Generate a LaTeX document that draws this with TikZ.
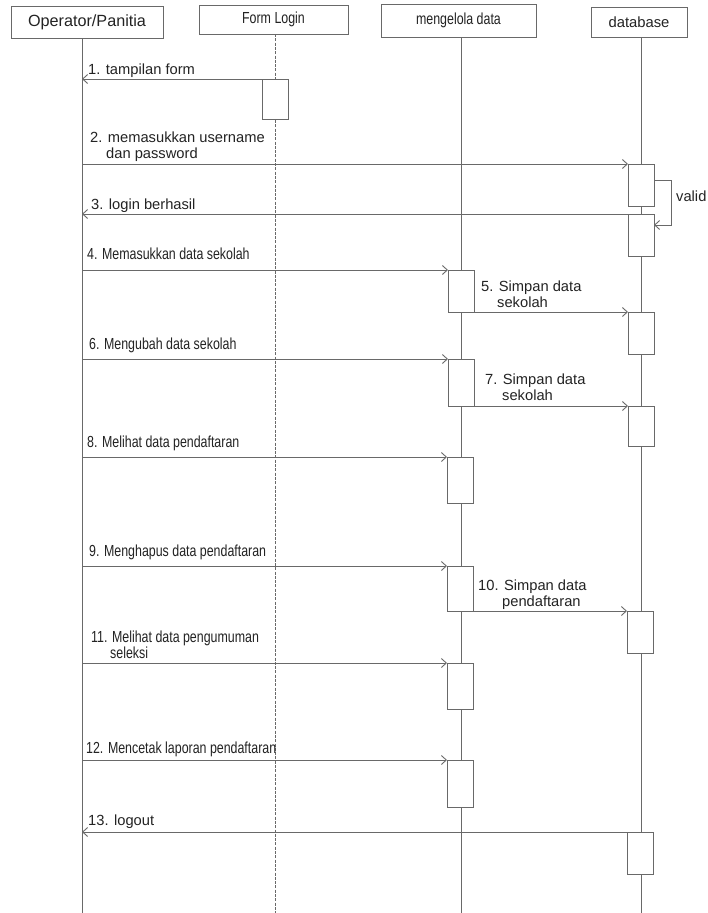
\documentclass[tikz,border=0pt]{standalone}
\usepackage{fontspec}
\setmainfont{Liberation Sans}
\newfontfamily\narrowfont[FakeStretch=0.775]{Liberation Sans}
\usetikzlibrary{arrows.meta}
\definecolor{linegray}{RGB}{105,105,105}
\definecolor{inkgray}{RGB}{35,35,35}

\begin{document}
\begin{tikzpicture}[x=1pt,y=-1pt,
  head/.style={draw=linegray, line width=0.9pt, fill=white, inner sep=0pt, text=inkgray},
  lifeline/.style={draw=linegray, line width=0.9pt},
  formline/.style={lifeline, dash pattern=on 3pt off 1.3pt},
  act/.style={draw=linegray, fill=white, line width=0.9pt, inner sep=0pt, outer sep=0pt,
              minimum width=26pt, anchor=north west},
  msg/.style={draw=linegray, line width=0.9pt, -{Straight Barb[length=5pt,width=9pt]}},
  lbl/.style={anchor=base west, inner sep=0pt, text=inkgray, font=\fontsize{14.7}{16}\selectfont},
  nlbl/.style={anchor=base west, inner sep=0pt, text=inkgray, font=\fontsize{16}{17}\narrowfont},
]
\fill[white] (0,0) rectangle (708,913);
\useasboundingbox (0,0) rectangle (708,913);

% participants
\node[head, minimum width=152pt, minimum height=32pt, font=\fontsize{16.2}{18}\selectfont]
  (op) at (87,22) {Operator/Panitia};
\node[head, minimum width=149pt, minimum height=29pt, font=\fontsize{16}{18}\narrowfont]
  (fl) at (273.5,19.5) {Form Login};
\node[head, minimum width=155pt, minimum height=33pt, font=\fontsize{16}{18}\narrowfont]
  (md) at (458.5,20.5) {mengelola data};
\node[head, minimum width=96pt, minimum height=30pt, font=\fontsize{14.8}{17}\selectfont]
  (db) at (639,22) {database};

% lifelines
\coordinate (opTop) at (82,38);   \coordinate (opBot) at (82,913);
\coordinate (flTop) at (275,34);  \coordinate (flBot) at (275,913);
\coordinate (mdTop) at (461,37);  \coordinate (mdBot) at (461,913);
\coordinate (dbTop) at (641,37);  \coordinate (dbBot) at (641,913);
\draw[lifeline] (opTop) -- (opBot);
\draw[formline] (flTop) -- (flBot);
\draw[lifeline] (mdTop) -- (mdBot);
\draw[lifeline] (dbTop) -- (dbBot);

% activation bars
\node[act, minimum height=40pt] (a1)  at (262,79)  {};
\node[act, minimum height=42pt] (d1)  at (628,164) {};
\node[act, minimum height=42pt] (d2)  at (628,214) {};
\node[act, minimum height=42pt] (m4)  at (448,270) {};
\node[act, minimum height=42pt] (d5)  at (628,312) {};
\node[act, minimum height=47pt] (m6)  at (448,359) {};
\node[act, minimum height=40pt] (d7)  at (628,406) {};
\node[act, minimum height=46pt] (m8)  at (447,457) {};
\node[act, minimum height=45pt] (m9)  at (447,566) {};
\node[act, minimum height=42pt] (d10) at (627,611) {};
\node[act, minimum height=46pt] (m11) at (447,663) {};
\node[act, minimum height=47pt] (m12) at (447,760) {};
\node[act, minimum height=42pt] (d13) at (627,832) {};

% messages
\draw[msg] (a1.north west) -- (opTop |- a1.north west);
\draw[msg] (opTop |- d1.north west) -- (d1.north west);
\coordinate (loopA) at (654,180);
\coordinate (loopB) at (654,225);
\draw[msg] (loopA) -- ++(17,0) -- ++(0,45) -- (loopB);
\draw[msg] (d2.north west) -- (opTop |- d2.north west);
\draw[msg] (opTop |- m4.north west) -- (m4.north west);
\draw[msg] (m4.south east) -- (d5.north west);
\draw[msg] (opTop |- m6.north west) -- (m6.north west);
\draw[msg] (m6.south east) -- (d7.north west);
\draw[msg] (opTop |- m8.north west) -- (m8.north west);
\draw[msg] (opTop |- m9.north west) -- (m9.north west);
\draw[msg] (m9.south east) -- (d10.north west);
\draw[msg] (opTop |- m11.north west) -- (m11.north west);
\draw[msg] (opTop |- m12.north west) -- (m12.north west);
\draw[msg] (d13.north west) -- (opTop |- d13.north west);

% message labels
\node[lbl] (t1)  at (88,74)   {1. tampilan form};
\node[lbl] (t2a) at (90,142)  {2. memasukkan username};
\node[lbl] (t2b) at (106,158) {dan password};
\node[lbl] (tv)  at (676,201) {valid};
\node[lbl] (t3)  at (91,209)  {3. login berhasil};
\node[nlbl] (t4) at (87,259)  {4. Memasukkan data sekolah};
\node[lbl] (t5a) at (481,291) {5. Simpan data};
\node[lbl] (t5b) at (497,307) {sekolah};
\node[nlbl] (t6) at (89,349)  {6. Mengubah data sekolah};
\node[lbl] (t7a) at (485,384) {7. Simpan data};
\node[lbl] (t7b) at (502,400) {sekolah};
\node[nlbl] (t8) at (87,447)  {8. Melihat data pendaftaran};
\node[nlbl] (t9) at (89,556)  {9. Menghapus data pendaftaran};
\node[lbl] (t10a) at (478,590) {10. Simpan data};
\node[lbl] (t10b) at (502,606) {pendaftaran};
\node[nlbl] (t11a) at (91,642) {11. Melihat data pengumuman};
\node[nlbl] (t11b) at (110,658) {seleksi};
\node[nlbl] (t12) at (86,753) {12. Mencetak laporan pendaftaran};
\node[lbl] (t13) at (88,825)  {13. logout};
\end{tikzpicture}
\end{document}
